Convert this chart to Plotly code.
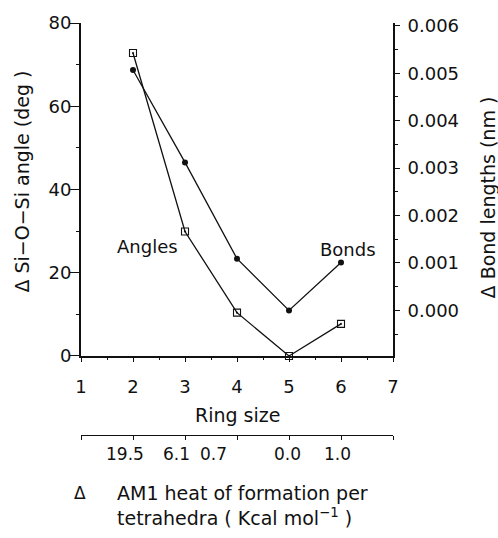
import plotly.graph_objects as go

# ---- data ----
ring_sizes = [2, 3, 4, 5, 6]
angle_change = [72.8, 29.9, 10.4, 0.0, 7.7]          # deg, open squares (left axis)
bond_change = [0.00507, 0.00312, 0.00109, 0.0, 0.00101]  # nm, filled circles (right axis)

x_ticks = [1, 2, 3, 4, 5, 6, 7]
left_ticks = [0, 20, 40, 60, 80]
right_ticks = [0.000, 0.001, 0.002, 0.003, 0.004, 0.005, 0.006]

heat_tick_positions = [1, 2, 3, 4, 5, 6, 7]
heat_label_positions = [1.85, 2.84, 3.55, 4.98, 5.94]
heat_labels = ["19.5", "6.1", "0.7", "0.0", "1.0"]

FONT = "DejaVu Sans, Liberation Sans, Arial, sans-serif"
BLACK = "#111111"

# paper geometry helpers (margins chosen to place plot area)
L, R, T, B = 81, 105, 21, 18
W, H = 498, 538
PW, PH = W - L - R, H - T - B


def px_x(px):
    return (px - L) / PW


def px_y(py):
    return (H - B - py) / PH


fig = go.Figure()

fig.add_trace(go.Scatter(
    x=ring_sizes, y=angle_change, mode="lines+markers", name="Angles",
    line=dict(color=BLACK, width=1.3),
    marker=dict(symbol="square-open-dot", size=7, color=BLACK, line=dict(width=1.1, color=BLACK)),
    cliponaxis=False, showlegend=False, xaxis="x", yaxis="y",
))
fig.add_trace(go.Scatter(
    x=ring_sizes, y=bond_change, mode="lines+markers", name="Bonds",
    line=dict(color=BLACK, width=1.3),
    marker=dict(symbol="circle", size=6, color=BLACK),
    cliponaxis=False, showlegend=False, xaxis="x", yaxis="y2",
))
# carrier trace for the secondary (heat of formation) axis
fig.add_trace(go.Scatter(
    x=ring_sizes, y=[None] * len(ring_sizes), mode="markers",
    showlegend=False, hoverinfo="skip", xaxis="x2", yaxis="y",
))

plot_bottom = px_y(358)

fig.update_layout(
    width=W, height=H,
    margin=dict(l=L, r=R, t=T, b=B),
    paper_bgcolor="white", plot_bgcolor="white",
    font=dict(family=FONT, size=18, color=BLACK),
    showlegend=False,
    xaxis=dict(
        range=[1, 7], tickvals=x_ticks, showgrid=False, zeroline=False,
        showline=True, linecolor=BLACK, linewidth=1.6, mirror=False,
        ticks="outside", ticklen=4, tickwidth=1.3, tickcolor=BLACK,
        minor=dict(dtick=0.5, ticks="outside", ticklen=2.5, tickwidth=1, tickcolor=BLACK),
        tickfont=dict(size=18), ticklabelstandoff=10,
        anchor="y",
    ),
    xaxis2=dict(
        range=[1, 7], tickvals=heat_tick_positions, showticklabels=False,
        showgrid=False, zeroline=False, overlaying="x", anchor="free",
        position=px_y(438), side="bottom",
        showline=True, linecolor=BLACK, linewidth=1.4,
        ticks="outside", ticklen=4, tickwidth=1.2, tickcolor=BLACK,
    ),
    yaxis=dict(
        range=[0, 80], tickvals=left_ticks, domain=[plot_bottom, 1],
        showgrid=False, zeroline=False,
        showline=True, linecolor=BLACK, linewidth=1.8,
        ticks="outside", ticklen=9, tickwidth=1.3, tickcolor=BLACK,
        minor=dict(dtick=10, ticks="outside", ticklen=3, tickwidth=1, tickcolor=BLACK),
        tickfont=dict(size=18), ticklabelstandoff=-5,
        anchor="x",
    ),
    yaxis2=dict(
        range=[-0.00096, 0.00606], tickvals=right_ticks, tickformat=".3f",
        overlaying="y", side="right", anchor="x",
        showgrid=False, zeroline=False,
        showline=True, linecolor=BLACK, linewidth=1.8,
        ticks="outside", ticklen=5, tickwidth=1.3, tickcolor=BLACK,
        minor=dict(dtick=0.0005, tick0=0, ticks="outside", ticklen=3, tickwidth=1, tickcolor=BLACK),
        tickfont=dict(size=18), ticklabelstandoff=4,
    ),
)


def ann(x, y, text, xref="paper", yref="paper", size=18, xanchor="center", angle=0):
    return dict(x=x, y=y, xref=xref, yref=yref, text=text, showarrow=False,
                xanchor=xanchor, yanchor="middle", textangle=angle,
                font=dict(size=size))


annotations = []
# in-plot series labels
annotations.append(ann(2.28, 26.3, "Angles", xref="x", yref="y"))
annotations.append(ann(6.14, 25.5, "Bonds", xref="x", yref="y"))
# axis titles
annotations.append(ann(px_x(22.5), px_y(182), "Δ Si−O−Si angle (deg )", size=19, angle=-90))
annotations.append(ann(px_x(488), px_y(197.5), "Δ Bond lengths (nm )", size=19, angle=-90))
annotations.append(ann(px_x(237), px_y(418), "Ring size", size=19))
# heat of formation labels on secondary axis
for xp, lab in zip(heat_label_positions, heat_labels):
    annotations.append(ann(xp, px_y(457), lab, xref="x", size=17))
annotations.append(ann(px_x(80), px_y(497), "Δ", size=17))
annotations.append(ann(px_x(115), px_y(497), "AM1 heat of formation per", size=19, xanchor="left"))
annotations.append(ann(px_x(115), px_y(521), "tetrahedra ( Kcal mol<sup>−1</sup> )", size=19, xanchor="left"))

fig.update_layout(annotations=annotations)

fig.write_html("out.html")
